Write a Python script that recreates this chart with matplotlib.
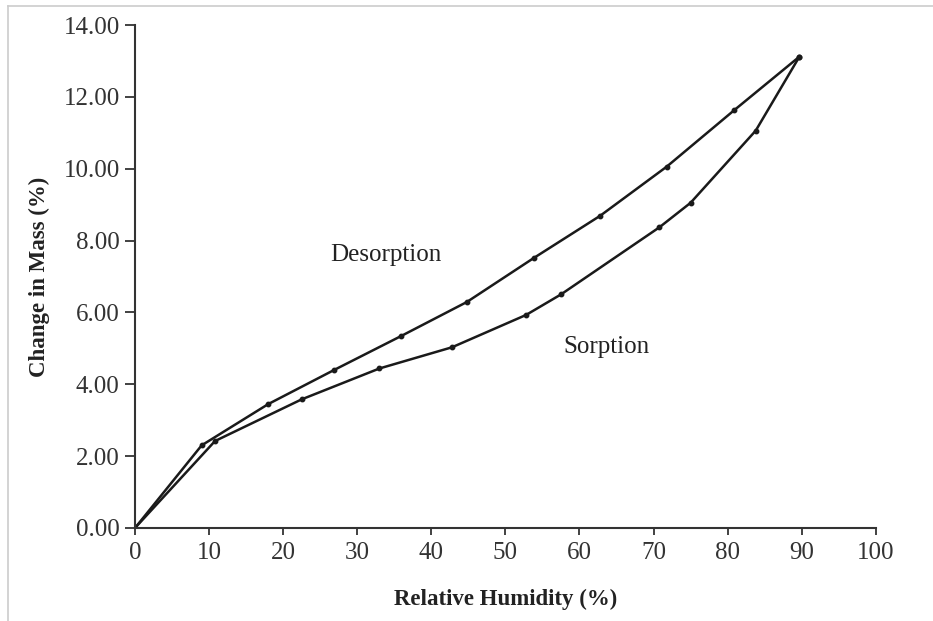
import matplotlib
matplotlib.use("Agg")
import matplotlib.pyplot as plt
from matplotlib.lines import Line2D

# sorption branch (humidity rising)
sorp_rh = [0, 10.8, 22.5, 33.0, 42.8, 52.8, 57.5, 70.8, 75.0, 83.8, 89.7]
sorp_mass = [0, 2.42, 3.58, 4.44, 5.03, 5.93, 6.50, 8.37, 9.05, 11.06, 13.12]

# desorption branch (humidity falling)
desorp_rh = [0, 9.0, 18.0, 26.9, 35.9, 44.8, 53.8, 62.8, 71.8, 80.9, 89.7]
desorp_mass = [0, 2.30, 3.45, 4.40, 5.34, 6.29, 7.51, 8.69, 10.06, 11.63, 13.12]

x_ticks = [0, 10, 20, 30, 40, 50, 60, 70, 80, 90, 100]
y_ticks = [0, 2, 4, 6, 8, 10, 12, 14]

plt.rcParams['font.family'] = ['Liberation Serif', 'DejaVu Serif']

fig = plt.figure(figsize=(9.33, 6.21), dpi=100)
ax = fig.add_axes([0.1447, 0.1498, 0.7939, 0.8099])

ax.plot(desorp_rh, desorp_mass, color='#1a1a1a', lw=1.8, marker='o', ms=3.2)
ax.plot(sorp_rh, sorp_mass, color='#1a1a1a', lw=1.8, marker='o', ms=3.2)

ax.text(26.3, 7.6, 'Desorption', fontsize=18, color='#222222', ha='left', va='center')
ax.text(57.8, 5.04, 'Sorption', fontsize=18, color='#222222', ha='left', va='center')

ax.set_xlim(0, 100)
ax.set_ylim(0, 14)
ax.set_xticks(x_ticks)
ax.set_yticks(y_ticks)
ax.set_yticklabels(['%.2f' % v for v in y_ticks])

for side in ['top', 'right']:
    ax.spines[side].set_visible(False)
for side in ['left', 'bottom']:
    ax.spines[side].set_linewidth(1.5)
    ax.spines[side].set_color('#333333')

ax.tick_params(axis='y', direction='out', length=7, width=1.3, pad=4,
               labelsize=18, colors='#333333')
ax.tick_params(axis='x', direction='out', length=5, width=1.3, pad=5,
               labelsize=18, colors='#333333')

ax.set_xlabel('Relative Humidity (%)', fontsize=16.5, fontweight='bold',
              color='#222222', labelpad=18)
ax.set_ylabel('Change in Mass (%)', fontsize=16.5, fontweight='bold',
              color='#222222', labelpad=10)

# thin grey frame along the top and left edges
fig.add_artist(Line2D([8 / 933, 8 / 933], [0, 1 - 6 / 621],
                      transform=fig.transFigure, color='#cccccc', lw=1.2))
fig.add_artist(Line2D([8 / 933, 1], [1 - 6 / 621, 1 - 6 / 621],
                      transform=fig.transFigure, color='#cccccc', lw=1.2))

fig.savefig('out.png', dpi=100)
